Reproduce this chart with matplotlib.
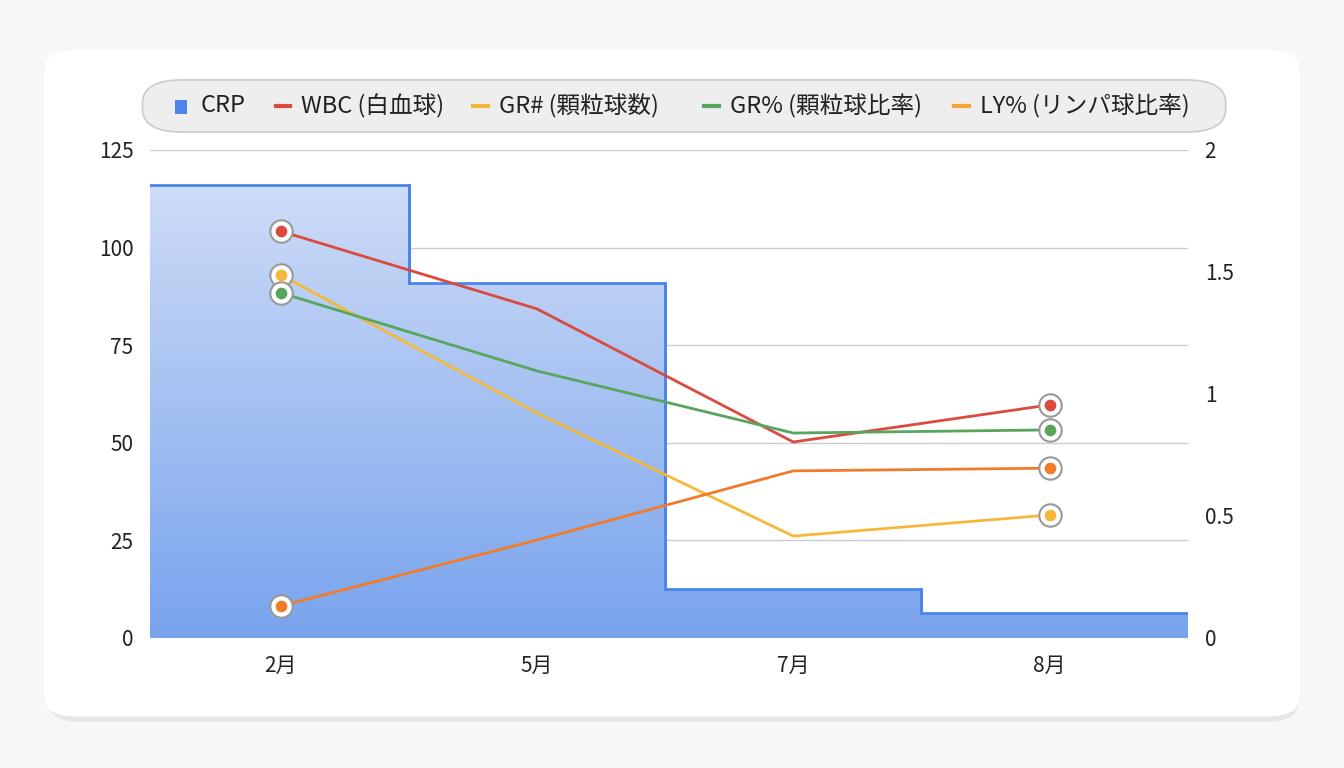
import matplotlib
matplotlib.use("Agg")
import matplotlib.pyplot as plt
import numpy as np
from matplotlib.patches import FancyBboxPatch, Polygon

plt.rcParams['font.family'] = ['Noto Sans CJK JP', 'DejaVu Sans']

months = ["2月", "5月", "7月", "8月"]
crp = [116, 91, 12.5, 6.4]
wbc = [104.2, 84.3, 50.2, 59.7]
gr_num = [93.0, 57.6, 26.1, 31.5]
gr_pct = [88.4, 68.4, 52.5, 53.3]
ly_pct = [8.2, 25.1, 42.8, 43.5]
right_ticks = [0, 0.5, 1, 1.5, 2]
right_labels = ["0", "0.5", "1", "1.5", "2"]

fig = plt.figure(figsize=(13.44, 7.68), dpi=100)
fig.patch.set_facecolor("#f7f7f7")
fig.patches.append(FancyBboxPatch((0.036, 0.06), 0.93, 0.87, boxstyle="round,pad=0,rounding_size=0.025",
                                  transform=fig.transFigure, fc="#e6e6e6", ec="none", zorder=-2))
fig.patches.append(FancyBboxPatch((0.033, 0.067), 0.934, 0.868, boxstyle="round,pad=0,rounding_size=0.025",
                                  transform=fig.transFigure, fc="white", ec="none", zorder=-1))

ax = fig.add_axes([0.1116, 0.1693, 0.7723, 0.6354])
ax.set_zorder(3)
ax.set_facecolor("none")
x = np.arange(len(months))
xl, xr = -0.51, 3.54
ax.set_xlim(xl, xr)
ax.set_ylim(0, 125)

edges = [xl] + [(x[i] + x[i + 1]) / 2 for i in range(len(x) - 1)] + [xr]
sx, sy = [], []
for i, v in enumerate(crp):
    sx += [edges[i], edges[i + 1]]
    sy += [v, v]
poly = Polygon(list(zip([xl] + sx + [xr], [0] + sy + [0])), closed=True, fc="none", ec="none")
ax.add_patch(poly)
grad = np.linspace(0, 1, 256)
top = np.array([0.82, 0.87, 0.97]); bot = np.array([0.47, 0.64, 0.93])
img = (top + (bot - top) * grad[:, None]).reshape(256, 1, 3)
im = ax.imshow(img, extent=[xl, xr, 0, 120], origin="upper", aspect="auto", zorder=1)
im.set_clip_path(poly)
ax.set_xlim(xl, xr)
ax.set_ylim(0, 125)
ax.plot(sx, sy, color="#4a86e8", lw=2, zorder=2)
for i in range(len(crp) - 1):
    ax.plot([edges[i + 1]] * 2, [crp[i], crp[i + 1]], color="#4a86e8", lw=2, zorder=2)

series = [(wbc, "#db4a3f"), (gr_num, "#f4b93a"), (gr_pct, "#5aa55e"), (ly_pct, "#f07b2a")]
for vals, c in series:
    ax.plot(x, vals, color=c, lw=2, zorder=3)
    for i in [0, len(x) - 1]:
        ax.scatter(x[i], vals[i], s=260, facecolor="white", edgecolor="#999999", linewidth=1.5, zorder=4)
        ax.scatter(x[i], vals[i], s=55, color=c, zorder=5)

ax.set_yticks([0, 25, 50, 75, 100, 125])
ax.grid(axis="y", color="#cccccc", lw=1)
ax.set_axisbelow(True)
ax.set_xticks(x)
ax.set_xticklabels(months)
for s in ax.spines.values():
    s.set_visible(False)
ax.tick_params(length=0, labelsize=15, colors="#222222")
ax.tick_params(axis="x", pad=12)
ax.tick_params(axis="y", pad=12)

ax2 = ax.twinx()
ax2.patch.set_visible(False)
ax2.set_ylim(0, 2)
ax2.set_yticks(right_ticks)
ax2.set_yticklabels(right_labels)
for s in ax2.spines.values():
    s.set_visible(False)
ax2.tick_params(length=0, labelsize=15, colors="#222222", pad=12)

fig.patches.append(FancyBboxPatch((0.106, 0.828), 0.806, 0.068, boxstyle="round,pad=0,rounding_size=0.03",
                                  transform=fig.transFigure, fc="#eeeeee", ec="#cccccc", lw=1.2, zorder=1))
items = [("CRP", "#4a86e8", "sq", 0.130), ("WBC (白血球)", "#db4a3f", "ln", 0.205),
         ("GR# (顆粒球数)", "#f4b93a", "ln", 0.352), ("GR% (顆粒球比率)", "#5aa55e", "ln", 0.524),
         ("LY% (リンパ球比率)", "#f4a533", "ln", 0.710)]
yl = 0.862
for lab, c, kind, xp in items:
    if kind == "sq":
        fig.patches.append(plt.Rectangle((xp, yl - 0.011), 0.0095, 0.019, transform=fig.transFigure,
                                         fc=c, ec="none", zorder=2))
    else:
        fig.lines.append(plt.Line2D([xp, xp + 0.011], [yl, yl], transform=fig.transFigure, color=c, lw=3, zorder=2))
    fig.text(xp + 0.019, yl, lab, fontsize=17, va="center", ha="left", color="#222222", zorder=3)

fig.savefig("out.png", dpi=100, facecolor=fig.get_facecolor())
